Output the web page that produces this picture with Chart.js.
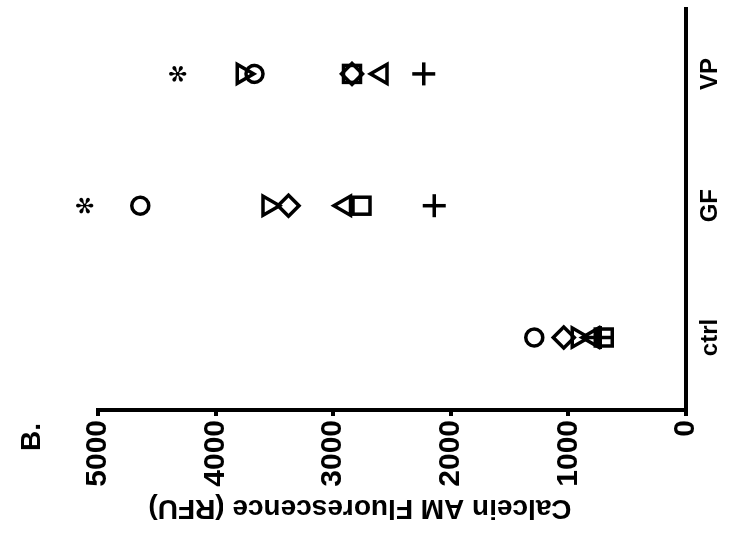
<!DOCTYPE html>
<html>
<head>
<meta charset="utf-8">
<script src="https://cdn.jsdelivr.net/npm/chart.js@4/dist/chart.umd.min.js"></script>
<style>
  html, body { margin: 0; padding: 0; background: #fff; overflow: hidden; }
  #wrap { position: relative; width: 743px; height: 550px; overflow: hidden; background: #fff; }
  /* the panel is laid out upright and then turned a quarter turn counter-clockwise */
  #c { position: absolute; left: 0; top: 0; transform-origin: 0 0;
       transform: translate(0, 550px) rotate(-90deg); }
</style>
</head>
<body>
<div id="wrap"><canvas id="c" width="550" height="743"></canvas></div>
<script>
// Groups on the horizontal axis
const categories = ['ctrl', 'GF', 'VP'];

// Calcein AM fluorescence (RFU), one array per marker shape
const circleVals   = [1290, 4640, 3670];
const diamondVals  = [1040, 3380, 2840];
const triUpVals    = [790, 2900, 2590];
const triDownVals  = [920, 3550, 3770];
const squareVals   = [700, 2760, 2840];
const plusVals     = [730, 2140, 2230];

// Significance marks above the groups
const sigMarks  = ['', '✻', '✻'];
const sigValues = [null, 5090, 4300];

// Value axis ticks
const valueTicks = [0, 1000, 2000, 3000, 4000, 5000];

const FONT = '"Liberation Sans", Arial, Helvetica, sans-serif';

function series(label, vals, style, radius, rotation) {
  return {
    label: label,
    data: vals.map((v, i) => ({ x: i + 1, y: v })),
    pointStyle: style,
    pointRadius: radius,
    pointHoverRadius: radius,
    pointRotation: rotation || 0,
    pointBorderColor: '#000',
    pointBackgroundColor: 'rgba(0,0,0,0)',
    pointBorderWidth: 3.5,
    showLine: false,
    clip: false
  };
}

const annotations = {
  id: 'annotations',
  afterDraw(chart) {
    const { ctx, scales: { x, y } } = chart;
    ctx.save();
    ctx.fillStyle = '#000';

    // significance asterisks
    ctx.textAlign = 'center';
    ctx.textBaseline = 'middle';
    ctx.font = 'bold 23px "DejaVu Sans", sans-serif';
    sigValues.forEach((v, i) => {
      if (v === null) return;
      ctx.fillText(sigMarks[i], x.getPixelForValue(i + 1), y.getPixelForValue(v));
    });

    // panel letter
    ctx.textAlign = 'left';
    ctx.textBaseline = 'alphabetic';
    ctx.font = 'bold 28px ' + FONT;
    ctx.fillText('B.', 99, 40);

    // value axis title
    ctx.save();
    ctx.translate(42, 360);
    ctx.rotate(-Math.PI / 2);
    ctx.textAlign = 'center';
    ctx.textBaseline = 'middle';
    ctx.font = 'bold 28px ' + FONT;
    ctx.fillText('Calcein AM Fluorescence (RFU)', 0, 0);
    ctx.restore();

    ctx.restore();
  }
};

new Chart(document.getElementById('c'), {
  type: 'scatter',
  data: {
    datasets: [
      series('circle', circleVals, 'circle', 8.5),
      series('diamond', diamondVals, 'rectRot', 10.5),
      series('triangle up', triUpVals, 'triangle', 11),
      series('triangle down', triDownVals, 'triangle', 11, 180),
      series('square', squareVals, 'rect', 12),
      series('plus', plusVals, 'cross', 11.5)
    ]
  },
  options: {
    responsive: false,
    animation: false,
    devicePixelRatio: 1,
    layout: { autoPadding: false, padding: { top: 98, right: 8, bottom: 0, left: 0 } },
    plugins: { legend: { display: false }, tooltip: { enabled: false } },
    scales: {
      x: {
        type: 'linear',
        min: 0.45,
        max: 3.5,
        afterBuildTicks: (s) => { s.ticks = categories.map((c, i) => ({ value: i + 1 })); },
        afterFit: (s) => { s.height = 57; s.paddingLeft = 0; s.paddingRight = 0; },
        grid: { display: false, drawTicks: false },
        border: { display: true, color: '#000', width: 4 },
        ticks: {
          color: '#000',
          padding: 10,
          maxRotation: 0,
          autoSkip: false,
          font: { family: FONT, size: 24, weight: 'bold' },
          callback: (v) => categories[Math.round(v) - 1]
        }
      },
      y: {
        type: 'linear',
        min: valueTicks[0],
        max: valueTicks[valueTicks.length - 1],
        afterBuildTicks: (s) => { s.ticks = valueTicks.map(v => ({ value: v })); },
        afterFit: (s) => { s.width = 140; },
        grid: { display: true, drawOnChartArea: false, drawTicks: true, tickLength: 6, color: '#000', lineWidth: 4 },
        border: { display: true, color: '#000', width: 4 },
        ticks: {
          color: '#000',
          padding: 4,
          autoSkip: false,
          font: { family: FONT, size: 30, weight: 'bold' },
          callback: (v) => String(v)
        }
      }
    }
  },
  plugins: [annotations]
});
</script>
</body>
</html>
